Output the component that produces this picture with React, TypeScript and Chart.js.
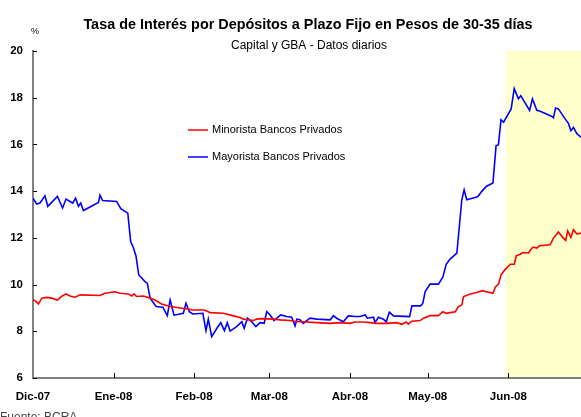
import React, { useEffect, useRef } from "react";
import { Chart, registerables } from "chart.js";

Chart.register(...registerables);

// Days counted from 1 Dec 2007
const monthDays = [0, 31, 62, 91, 122, 152, 183];
const monthLabels = ["Dic-07", "Ene-08", "Feb-08", "Mar-08", "Abr-08", "May-08", "Jun-08"];
const xMaxDay = 211;
const shadeStartDay = 182;
const yMin = 6;
const yMax = 20;
const yStep = 2;

const titleText = "Tasa de Interés por Depósitos a Plazo Fijo en Pesos de 30-35 días";
const subtitleText = "Capital y GBA - Datos diarios";
const unitText = "%";
const sourceText = "Fuente: BCRA";
const seriesNames = ["Minorista Bancos Privados", "Mayorista Bancos Privados"];

const minoristaDays = [
  0, 0.8, 2.1, 3.4, 5.3, 7.2, 9.4, 11.0, 12.7, 14.2, 16.2, 18.1, 25.8, 27.7, 31.6, 33.5, 36.7, 38.0, 38.9,
  39.9, 42.5, 45.1, 47.0, 49.5, 52.8, 56.0, 59.2, 61.7, 66.0, 68.2, 73.3, 77.2, 79.7, 81.0, 84.9, 86.1, 88.1,
  92.6, 95.1, 99.0, 101.6, 104.1, 109.3, 114.4, 118.2, 122.1, 124.0, 127.2, 129.8, 132.4, 136.2, 140.0, 142.0,
  143.7, 144.5, 145.8, 149.1, 150.4, 152.9, 156.1, 157.8, 159.1, 160.6, 162.6, 163.8, 165.1, 165.8, 168.4,
  170.9, 172.9, 177.1, 178.0, 179.3, 180.2, 181.9, 183.8, 185.3, 186.1, 187.6, 188.6, 190.8, 192.1, 192.7,
  194.0, 195.0, 199.1, 200.4, 202.3, 204.2, 205.1, 205.9, 207.1, 208.1, 209.4, 211.1,
];
const minoristaValues = [
  9.34, 9.31, 9.17, 9.42, 9.45, 9.42, 9.34, 9.49, 9.6, 9.51, 9.46, 9.56, 9.53, 9.63, 9.69, 9.63, 9.6, 9.51, 9.6,
  9.49, 9.51, 9.42, 9.34, 9.17, 9.06, 9.01, 8.96, 8.91, 8.91, 8.8, 8.77, 8.66, 8.59, 8.52, 8.46, 8.52, 8.54,
  8.52, 8.49, 8.46, 8.41, 8.41, 8.37, 8.34, 8.37, 8.34, 8.4, 8.4, 8.37, 8.34, 8.34, 8.37, 8.3,
  8.4, 8.31, 8.43, 8.46, 8.56, 8.67, 8.67, 8.84, 8.77, 8.8, 8.84, 9.06, 9.13, 9.49, 9.6,
  9.66, 9.74, 9.63, 9.89, 10.03, 10.42, 10.66, 10.87, 10.87, 11.23, 11.3, 11.37, 11.35, 11.56, 11.6,
  11.56, 11.66, 11.7, 11.99, 12.25, 11.99, 11.89, 12.3, 12.02, 12.35, 12.17, 12.2,
];

const mayoristaDays = [
  0, 1.4, 2.7, 4.6, 5.7, 9.4, 11.4, 12.7, 15.3, 16.4, 17.5, 18.4, 19.4, 25.2, 25.8, 26.8, 32.2, 33.8, 36.5,
  37.6, 38.6, 39.7, 40.7, 43.1, 44.0, 45.1, 47.4, 50.0, 51.7, 52.8, 54.3, 57.9, 58.9, 60.2, 61.5, 65.4, 66.6,
  67.5, 68.8, 70.8, 72.3, 73.7, 74.8, 75.9, 78.4, 80.4, 81.3, 82.6, 84.2, 85.8, 87.4, 89.0, 90.0, 91.3, 92.8,
  94.1, 95.4, 97.7, 99.6, 100.9, 101.6, 102.8, 104.1, 105.4, 106.7, 109.3, 114.4, 115.7, 116.9, 119.5, 121.4,
  124.0, 125.9, 127.9, 128.8, 131.1, 131.7, 133.0, 134.9, 136.0, 137.2, 138.8, 145.0, 145.9, 149.3, 150.1,
  151.0, 152.9, 156.1, 157.8, 159.1, 160.6, 163.2, 165.1, 166.0, 167.0, 170.9, 171.5, 172.8, 174.5, 177.1,
  178.3, 179.2, 180.2, 181.2, 184.1, 185.3, 186.9, 187.8, 191.2, 192.3, 194.0, 195.3, 199.8, 200.4, 201.2,
  202.3, 204.2, 206.2, 207.1, 208.1, 209.4, 211.1,
];
const mayoristaValues = [
  13.7, 13.45, 13.49, 13.8, 13.35, 13.77, 13.28, 13.66, 13.49, 13.7, 13.35, 13.49, 13.17, 13.52, 13.83, 13.6, 13.56, 13.25, 13.06,
  11.84, 11.6, 11.2, 10.42, 10.13, 10.06, 9.42, 9.06, 9.03, 8.67, 9.34, 8.69, 8.77, 9.2, 8.84, 8.74, 8.77, 8.03,
  8.52, 7.77, 8.13, 8.37, 8.03, 8.37, 8.01, 8.2, 8.41, 8.13, 8.56, 8.41, 8.2, 8.37, 8.34, 8.84, 8.7, 8.46,
  8.59, 8.7, 8.63, 8.6, 8.23, 8.52, 8.49, 8.34, 8.46, 8.56, 8.52, 8.49, 8.67, 8.56, 8.41, 8.66,
  8.63, 8.63, 8.7, 8.56, 8.6, 8.37, 8.6, 8.52, 8.41, 8.82, 8.66, 8.63, 9.09, 9.09, 9.2,
  9.7, 10.02, 10.02, 10.32, 10.87, 11.09, 11.35, 13.63, 14.06, 13.63, 13.75, 13.8, 13.99, 14.2, 14.35,
  15.95, 15.98, 17.06, 16.95, 17.52, 18.39, 17.95, 18.09, 17.46, 17.95, 17.46, 17.42, 17.2, 17.14, 17.56,
  17.52, 17.2, 16.89, 16.59, 16.73, 16.46, 16.3,
];

const seriesColors = ["#FF0000", "#0000FF"];
const FONT = "'Liberation Sans', Arial, sans-serif";

const decorPlugin = {
  id: "decor",
  beforeDraw(chart: any) {
    const { ctx, chartArea } = chart;
    const xs = chart.scales.x;
    const x0 = xs.getPixelForValue(shadeStartDay);
    ctx.save();
    ctx.fillStyle = "#FFFFCC";
    ctx.fillRect(x0, chartArea.top, chartArea.right - x0, chartArea.bottom - chartArea.top);
    ctx.restore();
  },
  afterDraw(chart: any) {
    const { ctx, chartArea } = chart;
    const xs = chart.scales.x;
    const ys = chart.scales.y;
    ctx.save();
    // inside tick marks
    ctx.strokeStyle = "#000000";
    ctx.lineWidth = 1;
    ctx.beginPath();
    ys.ticks.forEach((t: any) => {
      const y = Math.round(ys.getPixelForValue(t.value)) + 0.5;
      ctx.moveTo(chartArea.left, y);
      ctx.lineTo(chartArea.left + 4, y);
    });
    xs.ticks.forEach((t: any, i: number) => {
      if (i === 0) return;
      const x = Math.round(xs.getPixelForValue(t.value)) + 0.5;
      ctx.moveTo(x, chartArea.bottom);
      ctx.lineTo(x, chartArea.bottom - 5);
    });
    ctx.stroke();

    // titles
    ctx.fillStyle = "#000000";
    ctx.textAlign = "center";
    ctx.textBaseline = "alphabetic";
    ctx.font = `bold 14.4px ${FONT}`;
    ctx.fillText(titleText, 308, 29);
    ctx.font = `12px ${FONT}`;
    ctx.fillText(subtitleText, 309, 49);
    ctx.font = `9px ${FONT}`;
    ctx.fillText(unitText, 35, 34);

    // legend
    ctx.textAlign = "left";
    ctx.textBaseline = "middle";
    ctx.font = `11px ${FONT}`;
    const legendY = [130, 157];
    seriesNames.forEach((name, i) => {
      ctx.strokeStyle = seriesColors[i];
      ctx.lineWidth = 1.5;
      ctx.beginPath();
      ctx.moveTo(188, legendY[i]);
      ctx.lineTo(208, legendY[i]);
      ctx.stroke();
      ctx.fillStyle = "#000000";
      ctx.fillText(name, 212, legendY[i]);
    });

    // source
    ctx.fillStyle = "#444444";
    ctx.textBaseline = "alphabetic";
    ctx.font = `12px ${FONT}`;
    ctx.fillText(sourceText, 0, 421);
    ctx.restore();
  },
};

export default function App() {
  const canvasRef = useRef<HTMLCanvasElement | null>(null);

  useEffect(() => {
    if (!canvasRef.current) return;
    const makePoints = (days: number[], values: number[]) =>
      days.map((d, i) => ({ x: d, y: values[i] }));

    const chart = new Chart(canvasRef.current, {
      type: "line",
      data: {
        datasets: [
          {
            label: seriesNames[0],
            data: makePoints(minoristaDays, minoristaValues),
            borderColor: seriesColors[0],
            backgroundColor: seriesColors[0],
            borderWidth: 1.6,
            pointRadius: 0,
            tension: 0,
            fill: false,
          },
          {
            label: seriesNames[1],
            data: makePoints(mayoristaDays, mayoristaValues),
            borderColor: seriesColors[1],
            backgroundColor: seriesColors[1],
            borderWidth: 1.6,
            pointRadius: 0,
            tension: 0,
            fill: false,
          },
        ],
      },
      options: {
        animation: false,
        responsive: false,
        maintainAspectRatio: false,
        devicePixelRatio: 1,
        layout: { padding: { top: 51, left: 0, right: 0, bottom: 0 } },
        plugins: {
          legend: { display: false },
          title: { display: false },
          tooltip: { enabled: false },
        },
        scales: {
          x: {
            type: "linear",
            min: 0,
            max: xMaxDay,
            grid: { display: false, drawTicks: false },
            border: { display: true, color: "#808080", width: 2 },
            afterBuildTicks: (scale: any) => {
              scale.ticks = monthDays.map((v) => ({ value: v }));
            },
            afterFit: (scale: any) => {
              scale.height = 39;
            },
            ticks: {
              autoSkip: false,
              maxRotation: 0,
              padding: 12,
              color: "#000000",
              font: { family: FONT, size: 11.5, weight: "bold" },
              callback: (_v: any, i: number) => monthLabels[i],
            },
          },
          y: {
            type: "linear",
            min: yMin,
            max: yMax,
            grid: { display: false, drawTicks: false },
            border: { display: true, color: "#808080", width: 2 },
            afterFit: (scale: any) => {
              scale.width = 33;
            },
            ticks: {
              stepSize: yStep,
              padding: 10,
              color: "#000000",
              font: { family: FONT, size: 11.5, weight: "bold" },
            },
          },
        },
      },
      plugins: [decorPlugin],
    } as any);

    return () => chart.destroy();
  }, []);

  return (
    <div style={{ position: "absolute", left: 0, top: 0, width: 581, height: 417, background: "#ffffff" }}>
      <canvas ref={canvasRef} width={581} height={417} style={{ display: "block", width: 581, height: 417 }} />
    </div>
  );
}
